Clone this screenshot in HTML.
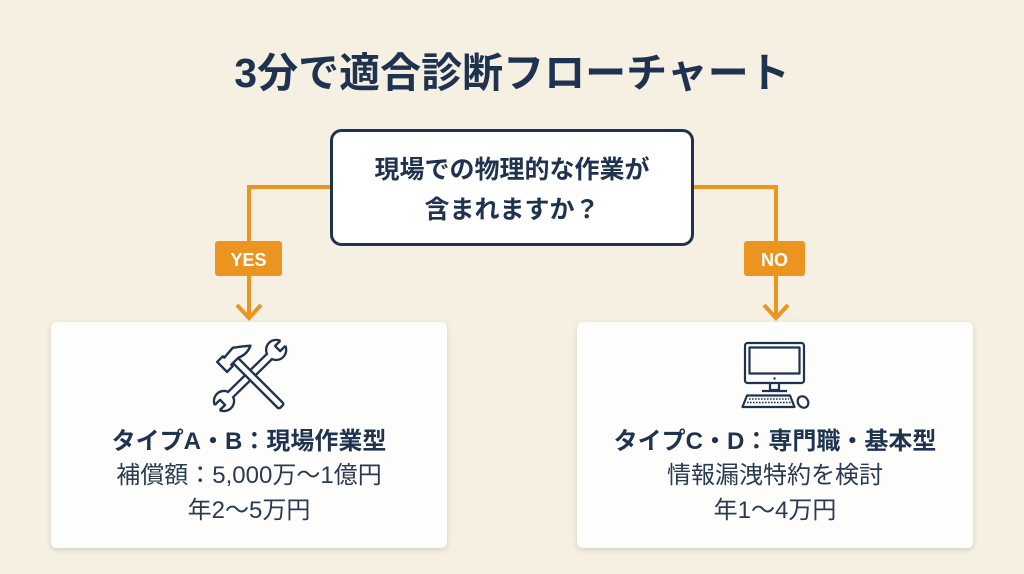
<!DOCTYPE html>
<html>
<head>
<meta charset="utf-8">
<style>
  html,body{margin:0;padding:0;}
  body{width:1024px;height:574px;overflow:hidden;background:#f5f0e2;}
  svg{display:block;}
  .t{font-family:"Liberation Sans","Noto Sans CJK JP",sans-serif;fill:#1f3350;}
</style>
</head>
<body>
<svg width="1024" height="574" viewBox="0 0 1024 574" xmlns="http://www.w3.org/2000/svg">
  <defs>
    <filter id="sh" x="-10%" y="-10%" width="120%" height="125%">
      <feDropShadow dx="0" dy="2" stdDeviation="3" flood-color="#000" flood-opacity="0.14"/>
    </filter>
  </defs>
  <rect width="1024" height="574" fill="#f5f0e2"/>

  <!-- Title -->
  <text class="t" x="512" y="87" text-anchor="middle" font-size="41" font-weight="700">3分で適合診断フローチャート</text>

  <!-- connectors -->
  <g fill="none" stroke="#ec9420" stroke-width="4">
    <polyline points="333,187 249,187 249,318"/>
    <polyline points="237,305 249,318 261,305"/>
    <polyline points="691,187 776,187 776,318"/>
    <polyline points="764,305 776,318 788,305"/>
  </g>

  <!-- question box -->
  <rect x="331.5" y="130.5" width="361" height="114" rx="10" fill="#ffffff" stroke="#1f3350" stroke-width="3"/>
  <text class="t" x="512" y="178" text-anchor="middle" font-size="25" font-weight="700">現場での物理的な作業が</text>
  <text class="t" x="512" y="218" text-anchor="middle" font-size="25" font-weight="700">含まれますか？</text>

  <!-- YES / NO labels -->
  <rect x="215" y="241" width="67" height="35" rx="3" fill="#ec9420"/>
  <text x="248.5" y="266" text-anchor="middle" font-family="Liberation Sans, sans-serif" font-size="18" font-weight="700" fill="#ffffff">YES</text>
  <rect x="744" y="241" width="61" height="35" rx="3" fill="#ec9420"/>
  <text x="774.5" y="266" text-anchor="middle" font-family="Liberation Sans, sans-serif" font-size="18" font-weight="700" fill="#ffffff">NO</text>

  <!-- cards -->
  <rect x="51" y="322" width="396" height="226" rx="6" fill="#fdfdfc" filter="url(#sh)"/>
  <rect x="577" y="322" width="396" height="226" rx="6" fill="#fdfdfc" filter="url(#sh)"/>

  <!-- hammer & wrench icon -->
  <g stroke-linejoin="round">
    <!-- wrench -->
    <g transform="translate(224,401) rotate(-44.4)">
      <g fill="#fdfdfc" stroke="#1f3350" stroke-width="2.4">
        <circle cx="0" cy="0" r="10"/>
        <rect x="0" y="-3.6" width="73" height="7.2"/>
        <circle cx="73" cy="0" r="10"/>
      </g>
      <g fill="#fdfdfc">
        <circle cx="0" cy="0" r="8.8"/>
        <rect x="0" y="-2.4" width="73" height="4.8"/>
        <circle cx="73" cy="0" r="8.8"/>
        <rect x="-13" y="-3.6" width="11" height="7.2"/>
        <rect x="75" y="-3.6" width="11" height="7.2"/>
      </g>
      <g fill="none" stroke="#1f3350" stroke-width="2.4">
        <polyline points="-9.4,-3.6 -2,-3.6 -2,3.6 -9.4,3.6"/>
        <polyline points="82.4,-3.6 75,-3.6 75,3.6 82.4,3.6"/>
      </g>
    </g>
    <!-- hammer -->
    <g transform="translate(232,357) rotate(45)" fill="#fdfdfc" stroke="#1f3350" stroke-width="2.4">
      <rect x="4" y="-3.6" width="66" height="7.2" rx="2"/>
      <path d="M -7 14 L 7 14 L 7 6 L 5 6 L 5 -4 Q 9 -13 5 -21 Q -1 -14 -6 -7 L -5 6 L -7 6 Z"/>
    </g>
  </g>

  <!-- computer icon -->
  <g fill="none" stroke="#1f3350" stroke-width="2.2" stroke-linejoin="round">
    <rect x="745" y="343" width="59" height="40" rx="2.5"/>
    <rect x="749.5" y="347.5" width="50" height="26"/>
    <polyline points="770,383 770,390 779,390 779,383"/>
    <line x1="762" y1="391" x2="787" y2="391"/>
    <polygon points="747,395.5 790,395.5 794.5,407 742.5,407"/>
    <ellipse cx="803" cy="402" rx="5" ry="6" transform="rotate(-35 803 402)"/>
  </g>
  <circle cx="774.5" cy="378.5" r="1.2" fill="#1f3350"/>
  <g stroke="#1f3350" stroke-width="1.6" stroke-dasharray="1.6 1.4">
    <line x1="749" y1="399" x2="789" y2="399"/>
    <line x1="747" y1="402.5" x2="791" y2="402.5"/>
  </g>

  <!-- card texts -->
  <text class="t" x="249" y="449" text-anchor="middle" font-size="24" font-weight="700">タイプA・B：現場作業型</text>
  <text class="t" x="249" y="483" text-anchor="middle" font-size="24" style="fill:#2a3a52">補償額：5,000万〜1億円</text>
  <text class="t" x="249" y="518" text-anchor="middle" font-size="24" style="fill:#2a3a52">年2〜5万円</text>

  <text class="t" x="775" y="449" text-anchor="middle" font-size="24" font-weight="700">タイプC・D：専門職・基本型</text>
  <text class="t" x="775" y="483" text-anchor="middle" font-size="24" style="fill:#2a3a52">情報漏洩特約を検討</text>
  <text class="t" x="775" y="518" text-anchor="middle" font-size="24" style="fill:#2a3a52">年1〜4万円</text>
</svg>
</body>
</html>
